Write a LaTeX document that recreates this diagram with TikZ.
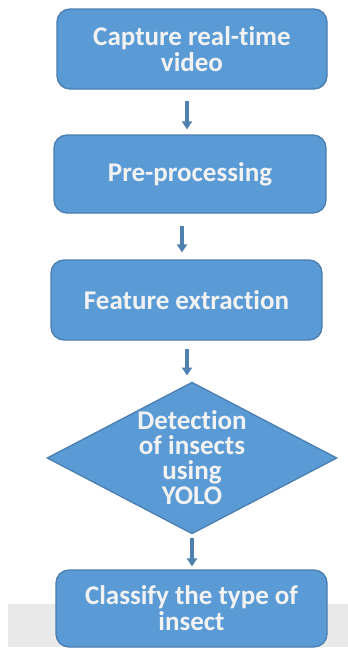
\documentclass[tikz,border=0pt]{standalone}
\usepackage{fontspec}
\setmainfont{Carlito}[Ligatures={NoCommon}]
\usetikzlibrary{shapes.geometric,arrows.meta}
\definecolor{boxfill}{HTML}{5B9BD5}
\definecolor{boxline}{HTML}{4A7EB0}
\definecolor{arrcol}{HTML}{4F81B0}
\definecolor{bandgray}{HTML}{E9E9E9}
\begin{document}
\begin{tikzpicture}[x=1pt,y=-1pt,
  stepbox/.style={draw=boxline,fill=boxfill,line width=1.3pt,rounded corners=13pt,
    align=center,text=white!95!black,font=\bfseries\fontsize{27}{26}\selectfont,inner sep=0pt},
  decision/.style={diamond,draw=boxline,fill=boxfill,line width=1.3pt,aspect=1.9,
    align=center,text=white!95!black,font=\bfseries\fontsize{27}{25}\selectfont,inner sep=0pt,
    minimum width=290pt,minimum height=150pt},
  arr/.style={draw=arrcol,line width=4pt,-{Triangle[width=10pt,length=8pt]}}]
\useasboundingbox (0,0) rectangle (348,649);
\fill[white] (0,0) rectangle (348,649);
\fill[bandgray] (8,604) rectangle (348,647);
\node[stepbox,minimum width=270pt,minimum height=80pt] (b1) at (192,49) {Capture real-time\\video};
\node[stepbox,minimum width=272pt,minimum height=78pt] (b2) at (190,174) {Pre-processing};
\node[stepbox,minimum width=271pt,minimum height=80pt] (b3) at (186.5,300) {Feature extraction};
\node[decision] (d) at (192,458) {Detection\\of insects\\using\\YOLO};
\node[stepbox,minimum width=271pt,minimum height=77pt] (b5) at (191.5,608.5) {Classify the type of\\insect};
\draw[arr,shorten <=11pt,shorten >=5pt] ([xshift=-5pt]b1.south) -- ([xshift=-5pt]b1.south |- b2.north);
\draw[arr,shorten <=12pt,shorten >=7pt] ([xshift=-8pt]b2.south) -- ([xshift=-8pt]b2.south |- b3.north);
\draw[arr,shorten <=8pt,shorten >=6pt] ([xshift=0.5pt]b3.south) -- ([xshift=0.5pt]b3.south |- d.north);
\draw[arr,shorten <=4pt,shorten >=3pt] (d.south) -- (d.south |- b5.north);
\end{tikzpicture}
\end{document}
